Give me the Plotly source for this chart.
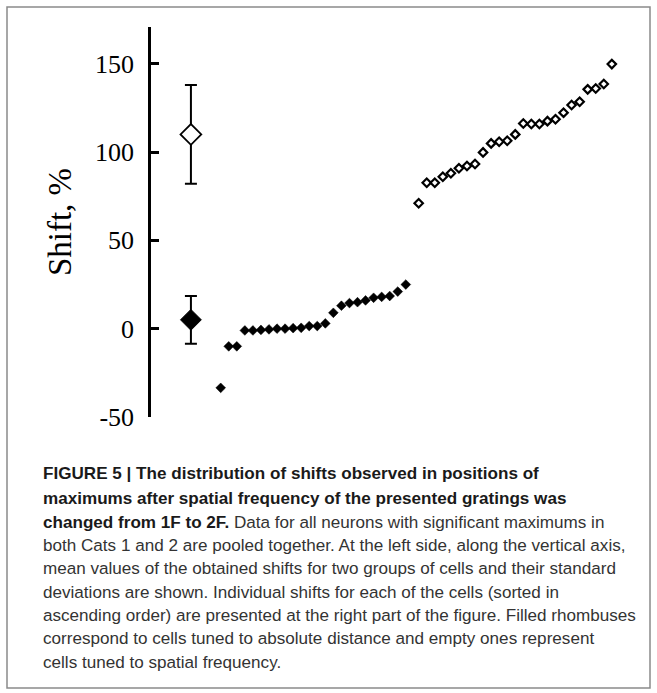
import numpy as np
import plotly.graph_objects as go

# Individual shifts (%), sorted ascending, for the two groups of cells
distance_shifts = [-33.5, -10, -10, -1, -1, -0.7, -0.4, 0, 0, 0.3, 0.5, 1.5, 1.5, 3,
                   9, 13, 14.5, 15, 16, 17.5, 18, 18.5, 21, 25]
frequency_shifts = [71, 82.6, 82.6, 86, 88, 90.8, 92.1, 93.2, 99.8, 104.9, 105.8, 106.4,
                    110, 116.2, 115.9, 115.9, 117.5, 118.6, 122.3, 126.6, 128.5, 135.5,
                    136, 138.5, 149.8]

# Group means and standard deviations
distance_mean, distance_sd = 5, 13.5
frequency_mean, frequency_sd = 110, 28

y_ticks = [-50, 0, 50, 100, 150]

W, H = 657, 693
PL, PR, PT, PB = 151, 640, 27, 417  # plot area in pixels

x_dist = np.arange(len(distance_shifts))
x_freq = len(distance_shifts) + 0.6 + np.arange(len(frequency_shifts))
mean_x = -3.7
x_range = [-8.66, 52.1]
y_range = [-50, 170.8]

fig = go.Figure()

# Means with standard deviations along the vertical axis
fig.add_trace(go.Scatter(
    x=[mean_x], y=[frequency_mean], mode="markers",
    marker=dict(symbol="diamond", size=16, color="white",
                line=dict(color="black", width=1.8)),
    error_y=dict(type="data", array=[frequency_sd], color="black",
                 thickness=2, width=6),
    showlegend=False))
fig.add_trace(go.Scatter(
    x=[mean_x], y=[distance_mean], mode="markers",
    marker=dict(symbol="diamond", size=16, color="black",
                line=dict(color="black", width=1)),
    error_y=dict(type="data", array=[distance_sd], color="black",
                 thickness=2, width=6),
    showlegend=False))

# Individual cells
fig.add_trace(go.Scatter(
    x=x_dist, y=distance_shifts, mode="markers",
    marker=dict(symbol="diamond", size=7.5, color="black",
                line=dict(color="black", width=0.5)),
    showlegend=False))
fig.add_trace(go.Scatter(
    x=x_freq, y=frequency_shifts, mode="markers",
    marker=dict(symbol="diamond", size=6.5, color="white",
                line=dict(color="black", width=2.2)),
    showlegend=False))


def px_x(p):
    return (p - PL) / (PR - PL)


def px_y(p):
    return (PB - p) / (PB - PT)


# Outer frame around the figure and caption
fig.add_shape(type="rect", xref="paper", yref="paper",
              x0=px_x(7), x1=px_x(650), y0=px_y(688), y1=px_y(7),
              line=dict(color="#8a8a8a", width=1.5), layer="below")

caption = [
    "<b><span style='color:#1a1a1a'>FIGURE 5 | The distribution of shifts observed in positions of</span></b>",
    "<b><span style='color:#1a1a1a'>maximums after spatial frequency of the presented gratings was</span></b>",
    "<b><span style='color:#1a1a1a'>changed from 1F to 2F.</span></b> Data for all neurons with significant maximums in",
    "both Cats 1 and 2 are pooled together. At the left side, along the vertical axis,",
    "mean values of the obtained shifts for two groups of cells and their standard",
    "deviations are shown. Individual shifts for each of the cells (sorted in",
    "ascending order) are presented at the right part of the figure. Filled rhombuses",
    "correspond to cells tuned to absolute distance and empty ones represent",
    "cells tuned to spatial frequency.",
]
line_y = [474, 498, 522, 545, 568, 592, 615, 638, 662]
for txt, ly in zip(caption, line_y):
    fig.add_annotation(
        text=txt, xref="paper", yref="paper", x=px_x(41), y=px_y(ly),
        xanchor="left", yanchor="middle", showarrow=False, align="left",
        font=dict(family="Liberation Sans, Arial, sans-serif", size=17.1,
                  color="#333333"))

fig.update_xaxes(visible=False, range=x_range)
fig.update_yaxes(
    range=y_range, tickvals=y_ticks, ticktext=[str(v) for v in y_ticks],
    showline=True, linecolor="black", linewidth=2.5,
    ticks="inside", ticklen=8, tickwidth=2.5, tickcolor="black",
    ticklabelstandoff=9, showgrid=False, zeroline=False,
    tickfont=dict(family="Liberation Serif, Times New Roman, serif",
                  size=26, color="black"),
    title=dict(text="Shift, %", standoff=14,
               font=dict(family="Liberation Serif, Times New Roman, serif",
                         size=33, color="black")))

fig.update_layout(
    width=W, height=H, autosize=False,
    margin=dict(l=PL, r=W - PR, t=PT, b=H - PB),
    plot_bgcolor="white", paper_bgcolor="white")

fig.write_html("out.html")
